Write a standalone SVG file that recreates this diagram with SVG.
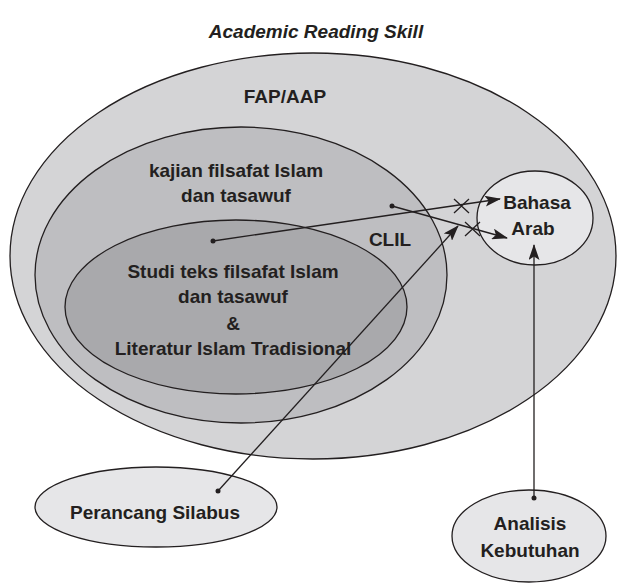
<svg xmlns="http://www.w3.org/2000/svg" width="619" height="584" viewBox="0 0 619 584">
<style>
  .e { stroke: #231f20; stroke-width: 1.3; }
  .t { font-family: "Liberation Sans", Arial, sans-serif; font-weight: bold; font-size: 19px; fill: #231f20; text-anchor: middle; }
  .c { stroke: #231f20; stroke-width: 1.3; fill: none; }
  .d { fill: #231f20; }
</style>
<defs>
  <marker id="arr" markerWidth="16" markerHeight="11" refX="15" refY="5.5" orient="auto" markerUnits="userSpaceOnUse">
    <path d="M0,0 L16,5.5 L0,11 L3.5,5.5 Z" fill="#231f20"/>
  </marker>
</defs>
<rect width="619" height="584" fill="#ffffff"/>
<text class="t" x="316" y="38" font-style="italic" font-size="17">Academic Reading Skill</text>
<g id="fap">
  <ellipse class="e" cx="313" cy="256" rx="303" ry="203" fill="#d4d4d6"/>
  <text class="t" x="285" y="103">FAP/AAP</text>
</g>
<g id="kajian">
  <ellipse class="e" cx="241" cy="275" rx="206" ry="148" fill="#bebec1"/>
  <text class="t" x="236" y="177">kajian filsafat Islam</text>
  <text class="t" x="236" y="202">dan tasawuf</text>
</g>
<g id="clil">
  <text class="t" x="390" y="246">CLIL</text>
</g>
<g id="studi">
  <ellipse class="e" cx="236" cy="307" rx="171" ry="87" fill="#a9a9ac"/>
  <text class="t" x="233" y="278">Studi teks filsafat Islam</text>
  <text class="t" x="233" y="303">dan tasawuf</text>
  <text class="t" x="233" y="330">&amp;</text>
  <text class="t" x="233" y="355">Literatur Islam Tradisional</text>
</g>
<g id="bahasa">
  <ellipse class="e" cx="535" cy="218" rx="58" ry="47" fill="#e6e6e8"/>
  <text class="t" x="537" y="209">Bahasa</text>
  <text class="t" x="533" y="235">Arab</text>
</g>
<g id="perancang">
  <ellipse class="e" cx="156" cy="507" rx="121" ry="40" fill="#e6e6e8"/>
  <text class="t" x="155" y="519">Perancang Silabus</text>
</g>
<g id="analisis">
  <ellipse class="e" cx="529" cy="536" rx="77" ry="46" fill="#e6e6e8"/>
  <text class="t" x="530" y="530">Analisis</text>
  <text class="t" x="530" y="557">Kebutuhan</text>
</g>
<g id="connectors">
  <line class="c" x1="213" y1="241" x2="500" y2="199" marker-end="url(#arr)"/>
  <circle class="d" cx="213" cy="241" r="2.5"/>
  <line class="c" x1="392" y1="206" x2="507" y2="238" marker-end="url(#arr)"/>
  <circle class="d" cx="392" cy="206" r="2.5"/>
  <line class="c" x1="218" y1="491" x2="458" y2="226" marker-end="url(#arr)"/>
  <circle class="d" cx="218" cy="491" r="2.5"/>
  <line class="c" x1="534" y1="498" x2="534" y2="245" marker-end="url(#arr)"/>
  <circle class="d" cx="534" cy="498" r="2.5"/>
  <path class="c" d="M454,199 L469,213 M454,213 L469,199" stroke-width="0.9"/>
  <path class="c" d="M465,222 L480,236 M465,236 L480,222" stroke-width="0.9"/>
</g>
</svg>
